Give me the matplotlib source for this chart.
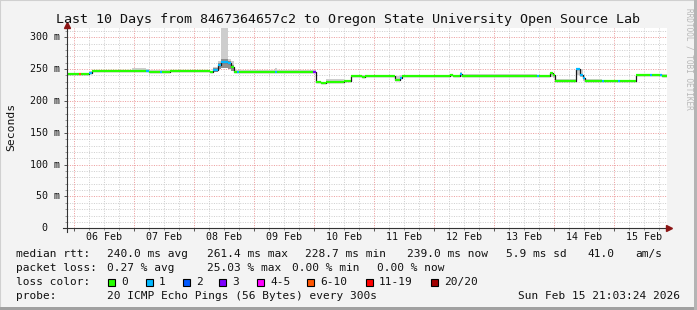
import matplotlib
matplotlib.use("Agg")
import matplotlib.pyplot as plt
from matplotlib.patches import Rectangle
import numpy as np

# ---------------- data ----------------
# time in hours since start (Feb 05 21:03:24), 240 h window
seg_start = [0, 4.8, 5.6, 8.8, 10, 26, 31.6, 32.8, 37.2, 38, 41.2, 57.2, 58.4, 60.4,
             61.6, 64.4, 65.6, 66.8, 68, 68.8, 83.2, 84, 98.4, 99.6, 101.6, 103.6,
             110.8, 113.6, 118, 119.2, 131.2, 133.2, 134, 153.2, 154.4, 157.2, 158,
             188, 188.8, 193.2, 194.4, 195.2, 203.6, 205.2, 206.4, 207.2, 214, 214.8,
             220.4, 221.2, 227.6, 233.2, 234, 237.2, 238]
median_ms = [242.5, 242.5, 242.5, 244.5, 247, 247, 247, 246, 246, 245.5, 246.5, 245, 249, 256,
             261.4, 259, 254, 246, 246, 246, 246, 246, 246, 230.5, 228.7, 229.5,
             231, 239, 237.5, 238.5, 233.5, 236, 238.5, 240, 238.5, 243, 239,
             239, 239, 244.5, 240, 231.5, 250, 241, 236, 231.5, 231.5, 231.5,
             231.5, 231.5, 240, 240, 240, 240, 239]
loss_cnt = [0, 7, 0, 1, 0, 0, 1, 0, 1, 0, 0, 0, 1, 1,
            1, 1, 0, 0, 1, 0, 1, 0, 3, 0, 0, 0,
            0, 0, 0, 0, 0, 1, 0, 0, 0, 1, 0,
            1, 0, 0, 0, 0, 1, 1, 1, 0, 1, 0,
            1, 0, 0, 1, 0, 1, 0]
smoke_lo = [241, 241, 241, 242, 246, 246, 245, 245, 244, 244, 245, 244, 245, 250,
            253, 252, 248, 245, 245, 245, 245, 245, 245, 229, 228, 228.5,
            230, 238, 236.5, 237.5, 232, 234, 237.5, 239, 237.5, 238, 238,
            238, 238, 238, 236, 230.5, 240, 237, 232, 230.5, 230.5, 230.5,
            230.5, 230.5, 239, 239, 239, 239, 238]
smoke_hi = [244, 244, 244, 247, 248, 251, 250, 249, 248, 248, 249, 247, 254, 262,
            315, 266, 262, 249, 249, 249, 251, 248, 248, 232, 230, 235,
            233, 241, 240, 241, 239, 240, 241, 242, 241, 245, 242,
            241, 241, 246, 242, 234, 252, 250, 240, 235, 233, 233,
            233, 233, 243, 243, 243, 243, 242]
# darker core of the smoke around the 08 Feb spike: (start h, end h, low ms, high ms)
dark_smoke = [(58.4, 60.4, 246, 252), (60.4, 61.6, 250, 260), (61.6, 64.4, 252, 266),
              (64.4, 65.6, 250, 262), (65.6, 66.8, 247, 256)]
window_h = 240.0
first_midnight_h = 2.9433
day_labels = ["06 Feb", "07 Feb", "08 Feb", "09 Feb", "10 Feb",
              "11 Feb", "12 Feb", "13 Feb", "14 Feb", "15 Feb"]
y_ticks = [0, 50, 100, 150, 200, 250, 300]
y_labels = ["0", "50 m", "100 m", "150 m", "200 m", "250 m", "300 m"]
y_top = 314.6

loss_legend = ["0", "1", "2", "3", "4-5", "6-10", "11-19", "20/20"]
loss_colors = ["#26ff00", "#00b8ff", "#0059ff", "#7e00ff", "#ff00ff", "#ff5500", "#ff0000", "#a10000"]

def loss_color(n):
    if n <= 3:
        return loss_colors[n]
    if n <= 5:
        return loss_colors[4]
    if n <= 10:
        return loss_colors[5]
    if n <= 19:
        return loss_colors[6]
    return loss_colors[7]

# ---------------- figure ----------------
W, H = 697, 310
fig = plt.figure(figsize=(W / 100, H / 100), dpi=100, facecolor="#f3f3f3")
MONO = "DejaVu Sans Mono"

def px(x, y):
    return x / W, 1 - y / H

# frame of the image
fig.add_artist(Rectangle((0, 0), 1, 1, transform=fig.transFigure, fill=False,
                         edgecolor="#d0d0d0", lw=1.5))
fig.add_artist(Rectangle((0, 0), 1, 3 / H, transform=fig.transFigure, color="#a0a0a0", lw=0))
fig.add_artist(Rectangle(((W - 3) / W, 0), 3 / W, 1, transform=fig.transFigure, color="#b4b4b4", lw=0))

L, R, T, B = 67, 667, 28, 228.3
ax = fig.add_axes([L / W, (H - B) / H, (R - L) / W, (B - T) / H])
ax.set_facecolor("white")
ax.set_xlim(0, window_h)
ax.set_ylim(0, y_top)
for s in ax.spines.values():
    s.set_visible(False)

# grid
minor_x = np.arange(first_midnight_h % 6, window_h, 6.0)
major_x = np.arange(first_midnight_h, window_h, 24.0)
gkw = dict(lw=0.72, dashes=(1, 1.4), zorder=1)
for y in np.arange(10, y_top, 10):
    if y % 50 == 0:
        continue
    ax.axhline(y, color="#cfcfcf", **gkw)
for x in minor_x:
    if min(abs(x - major_x)) < 1e-6:
        continue
    ax.axvline(x, color="#cfcfcf", **gkw)
for y in y_ticks[1:]:
    ax.axhline(y, color="#ec9d9d", **gkw)
for x in major_x:
    ax.axvline(x, color="#ec9d9d", **gkw)

# smoke
t_edges = list(seg_start) + [window_h]
lo_ext = list(smoke_lo) + [smoke_lo[-1]]
hi_ext = list(smoke_hi) + [smoke_hi[-1]]
ax.fill_between(t_edges, lo_ext, hi_ext, step="post", color="#cdcdcd", lw=0, zorder=2)
for t0, t1, lo, hi in dark_smoke:
    ax.fill_between([t0, t1], [lo, lo], [hi, hi], color="#8e8e8e", lw=0, zorder=2.5)

# median line: black steps, coloured by loss
med_ext = list(median_ms) + [median_ms[-1]]
ax.step(t_edges, med_ext, where="post", color="#1a1a1a", lw=0.9, zorder=3)
for i, t0 in enumerate(seg_start):
    t1 = t_edges[i + 1]
    ax.hlines(median_ms[i], t0, t1, color=loss_color(loss_cnt[i]), lw=1.6, zorder=4)

# ticks
ax.set_xticks(major_x)
ax.set_xticklabels([])
ax.set_xticks(minor_x, minor=True)
ax.set_yticks(y_ticks)
ax.set_yticklabels([])
ax.set_yticks(np.arange(10, y_top, 10), minor=True)
ax.tick_params(axis="both", which="major", length=2.5, width=0.7, color="#555555")
ax.tick_params(axis="both", which="minor", length=1.5, width=0.7, color="#999999")

# axes lines with arrows
axis_col = "#333333"
arrow_col = "#8b1515"
fig.add_artist(plt.Line2D([px(L, 0)[0]] * 2, [px(0, 232)[1], px(0, 24)[1]], color=axis_col, lw=0.8))
fig.add_artist(plt.Line2D([px(63, 0)[0], px(668, 0)[0]], [px(0, B)[1]] * 2, color=axis_col, lw=0.8))
fig.add_artist(plt.Line2D([px(L, 0)[0]], [px(0, 24.5)[1]], marker="^", markersize=4.5,
                          color=arrow_col, lw=0))
fig.add_artist(plt.Line2D([px(668.5, 0)[0]], [px(0, B)[1]], marker=">", markersize=4.5,
                          color=arrow_col, lw=0))

# tick labels
for i, lab in enumerate(day_labels):
    xh = first_midnight_h + 12 + 24 * i
    xp = L + (R - L) * xh / window_h
    fig.text(*px(xp, 237.5), lab, ha="center", va="center", family=MONO, fontsize=7.2, color="#111111")
for v, lab in zip(y_ticks, y_labels):
    yp = B - (B - T) * v / y_top
    xr = 60 if lab != "0" else 47
    fig.text(*px(xr, yp), lab, ha="right", va="center", family=MONO, fontsize=7.2, color="#111111")

fig.text(*px(11, 127), "Seconds", rotation=90, ha="center", va="center", family=MONO,
         fontsize=8.2, color="#111111")

# title
fig.text(*px(348, 19), "Last 10 Days from 8467364657c2 to Oregon State University Open Source Lab",
         ha="center", va="center", family=MONO, fontsize=9.6, color="#111111")

# rrdtool watermark
fig.text(*px(688.5, 8), "RRDTOOL / TOBI OETIKER", rotation=270, ha="center", va="top",
         family=MONO, fontsize=5.6, color="#b8b8b8")

# legend
LFS = 8.0
def lt(x, y, s, **kw):
    fig.text(*px(x, y), s, ha="left", va="center", family=MONO, fontsize=LFS, color="#111111", **kw)

lt(16, 254, "median rtt:")
lt(107, 254, "240.0 ms avg")
lt(207, 254, "261.4 ms max")
lt(305, 254, "228.7 ms min")
lt(407, 254, "239.0 ms now")
lt(506, 254, "5.9 ms sd")
lt(587, 254, "41.0")
lt(635, 254, "am/s")

lt(16, 268, "packet loss:")
lt(107, 268, "0.27 % avg")
lt(207, 268, "25.03 % max")
lt(292, 268, "0.00 % min")
lt(377, 268, "0.00 % now")

lt(16, 282, "loss color:")
box_x = [108, 146, 183, 219, 257, 307, 366, 431]
for bx, lab, col in zip(box_x, loss_legend, loss_colors):
    fig.add_artist(Rectangle(px(bx, 286), 7 / W, 7 / H, transform=fig.transFigure,
                             facecolor=col, edgecolor="black", lw=0.8))
    lt(bx + 13, 282, lab)

lt(16, 296, "probe:")
lt(107, 296, "20 ICMP Echo Pings (56 Bytes) every 300s")
fig.text(*px(680, 296), "Sun Feb 15 21:03:24 2026", ha="right", va="center", family=MONO,
         fontsize=LFS, color="#111111")

fig.savefig("out.png", dpi=100, facecolor=fig.get_facecolor())
